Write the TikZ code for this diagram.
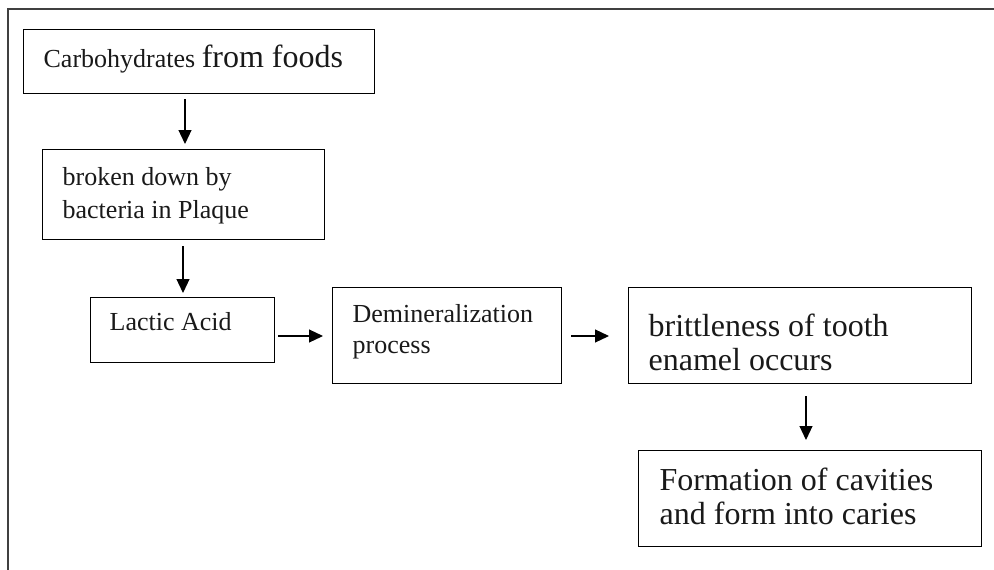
\documentclass[tikz,border=0pt]{standalone}
\usepackage{fontspec}
\setmainfont{Liberation Serif}
\usetikzlibrary{arrows.meta}
\newcommand{\smallfs}{\fontsize{26pt}{33pt}\selectfont}
\newcommand{\bigfs}{\fontsize{32pt}{34pt}\selectfont}
\tikzset{
  box/.style={draw=black, line width=1.3pt, anchor=north west, align=flush left,
    inner xsep=20pt, inner ysep=0pt, text=black!90,
    execute at begin node={\spaceskip=0pt\xspaceskip=0pt}},
  arr/.style={line width=1.2pt, -{Triangle[length=14pt,width=13pt]}},
  frame/.style={draw=black!75, line width=2pt},
}
\begin{document}
\begin{tikzpicture}[x=1pt,y=-1pt]
\useasboundingbox (0,0) rectangle (994,570);
\draw[frame] (8,570) -- (8,9) -- (994,9);

\node[box, font=\smallfs, text width=311pt, minimum height=64pt, text height=24pt, text depth=12pt]
  (carb) at (23,29) {Carbohydrates {\bigfs from foods}};
\node[box, font=\smallfs, text width=242pt, minimum height=90pt, text height=24pt, text depth=42pt]
  (broken) at (42,149) {broken down by\\bacteria in Plaque};
\node[box, font=\smallfs, minimum height=65pt, text height=20pt, text depth=19pt, inner xsep=19pt, text width=146pt]
  (lactic) at (90,297) {Lactic Acid};
\node[box, font={\fontsize{26pt}{31pt}\selectfont}, text width=189pt, minimum height=96pt, text height=20pt, text depth=46pt]
  (demin) at (332,287) {Demineralization\\process};
\node[box, font=\bigfs, text width=303pt, minimum height=96pt, text height=24pt, text depth=23pt]
  (brittle) at (628,287) {brittleness of tooth\\enamel occurs};
\node[box, font=\bigfs, text width=301pt, inner xsep=21pt, minimum height=96pt, text height=24pt, text depth=40pt]
  (form) at (638,450) {Formation of cavities\\and form into caries};

\coordinate (c1) at (185,0);
\coordinate (c2) at (183,0);
\coordinate (c3) at (0,336);
\coordinate (c5) at (806,0);

\draw[arr, shorten <=5pt, shorten >=5pt] (carb.south -| c1) -- (broken.north -| c1);
\draw[arr, shorten <=6pt, shorten >=4pt] (broken.south -| c2) -- (lactic.north -| c2);
\draw[arr, shorten <=3pt, shorten >=9pt] (lactic.east |- c3) -- (demin.west |- c3);
\draw[arr, shorten <=9pt, shorten >=19pt] (demin.east |- c3) -- (brittle.west |- c3);
\draw[arr, shorten <=12pt, shorten >=10pt] (brittle.south -| c5) -- (form.north -| c5);
\end{tikzpicture}
\end{document}
